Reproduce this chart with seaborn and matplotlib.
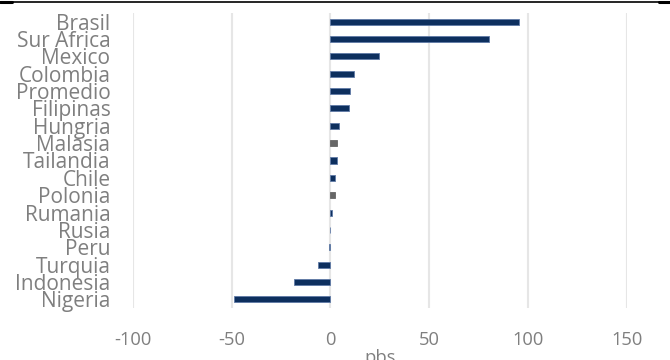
import matplotlib
matplotlib.use("Agg")
import matplotlib.pyplot as plt
import seaborn as sns
import pandas as pd
from matplotlib.lines import Line2D

countries = ["Brasil", "Sur Africa", "Mexico", "Colombia", "Promedio", "Filipinas",
             "Hungria", "Malasia", "Tailandia", "Chile", "Polonia", "Rumania",
             "Rusia", "Peru", "Turquia", "Indonesia", "Nigeria"]
values = [95.6, 80.3, 24.5, 12.1, 10.1, 9.5, 4.6, 3.4, 3.4, 2.4, 2.4, 0.8,
          0.0, -0.8, -6.1, -18.4, -48.9]
highlight = ["Malasia", "Polonia"]
xticks = [-100, -50, 0, 50, 100, 150]

navy = "#002D6B"
gray = "#666666"
txt = "#7F7F7F"

df = pd.DataFrame({"pais": countries, "pbs": values})
palette = {c: (gray if c in highlight else navy) for c in countries}

sns.set_style("white")
plt.rcParams["font.family"] = ["Open Sans", "DejaVu Sans"]

fig = plt.figure(figsize=(6.7, 3.6), dpi=100)
ax = fig.add_axes([132.7 / 670, 1 - 308 / 360, (626.7 - 132.7) / 670, (308 - 13) / 360])

sns.barplot(data=df, y="pais", x="pbs", hue="pais", palette=palette, orient="h",
            width=0.35, legend=False, ax=ax, linewidth=0.6, edgecolor="#5f7aa6")
for p, c in zip(ax.patches, countries):
    if c in highlight:
        p.set_edgecolor(gray)

ax.set_xlim(-100, 150)
ax.set_xticks(xticks)
ax.set_xticklabels([str(t) for t in xticks])
ax.grid(axis="x", color="#E6E6E6", linewidth=1.5)
ax.set_axisbelow(True)
for s in ax.spines.values():
    s.set_visible(False)
ax.tick_params(axis="y", length=0, pad=16, labelsize=15, labelcolor=txt)
ax.tick_params(axis="x", length=0, pad=16.5, labelsize=13.2, labelcolor=txt)
ax.set_ylabel("")
ax.set_xlabel("pbs", fontsize=13.2, color=txt, labelpad=0)

fig.add_artist(Line2D([0, 1], [1 - 1.5 / 360, 1 - 1.5 / 360], color="black", linewidth=1.2,
                      transform=fig.transFigure))
fig.add_artist(Line2D([0, 12 / 670], [1 - 1.5 / 360] * 2, color="black", linewidth=2.2,
                      transform=fig.transFigure))
fig.add_artist(Line2D([659 / 670, 1], [1 - 1.5 / 360] * 2, color="black", linewidth=2.2,
                      transform=fig.transFigure))

fig.savefig("out.png", dpi=100)
